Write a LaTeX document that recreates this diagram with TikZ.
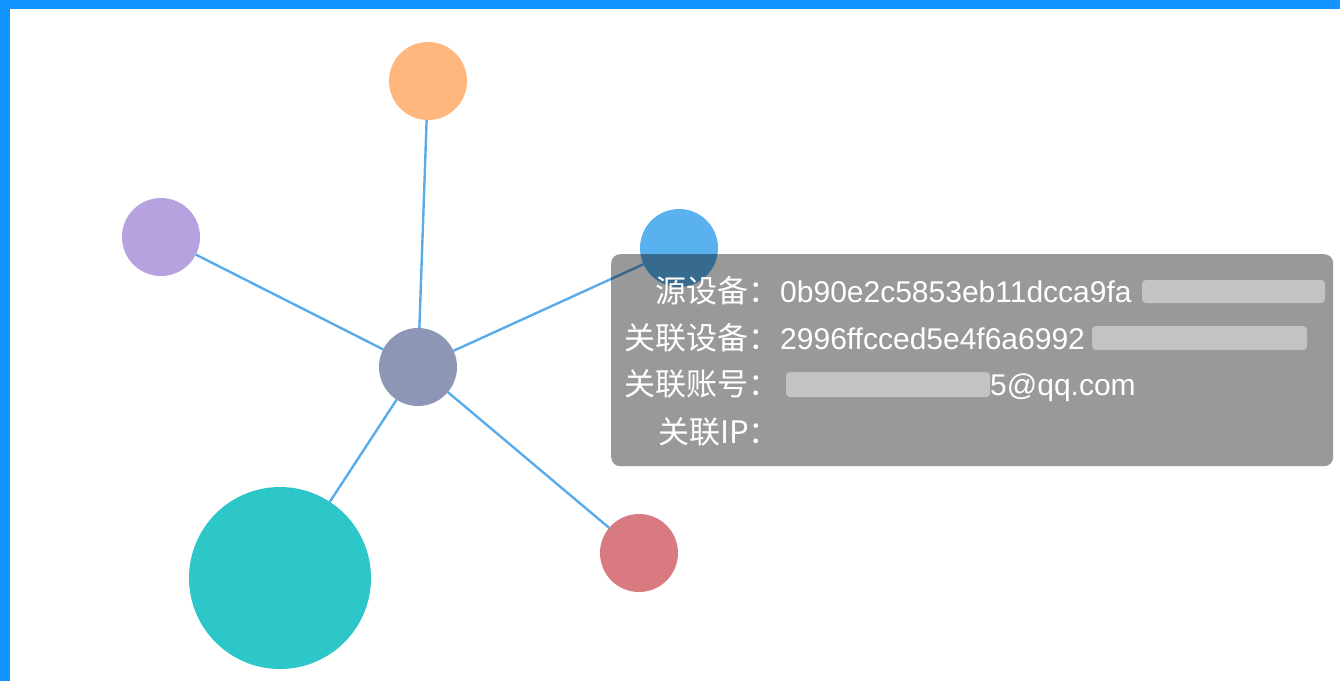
\documentclass[tikz,border=0pt]{standalone}
\usepackage{fontspec}
\newfontfamily\cjk{Noto Sans CJK SC}
\newfontfamily\latinfont{Liberation Sans}
\definecolor{frameblue}{HTML}{1395FF}
\definecolor{edgeblue}{HTML}{5AABEA}
\definecolor{cCenter}{HTML}{8E96B5}
\definecolor{cOrange}{HTML}{FFB77E}
\definecolor{cPurple}{HTML}{B6A2DE}
\definecolor{cBlue}{HTML}{5AB1EF}
\definecolor{cTeal}{HTML}{2EC7C9}
\definecolor{cRed}{HTML}{D87A80}
\tikzset{
  dot/.style={circle, inner sep=0pt, outer sep=0pt, minimum size=78pt, draw=none},
  link/.style={draw=edgeblue, line width=2.4pt},
  tiplabel/.style={anchor=base east, inner sep=0pt, text=white, font=\cjk\fontsize{31}{34}\selectfont},
  tipvalue/.style={anchor=base west, inner sep=0pt, text=white, font=\latinfont\fontsize{30}{34}\selectfont},
  blurbar/.style={fill=white, fill opacity=0.42, draw=none, rounded corners=4pt}
}
\begin{document}
\begin{tikzpicture}[x=1pt,y=-1pt]
\useasboundingbox (0,0) rectangle (1340,681);
\fill[white] (0,0) rectangle (1340,681);
\fill[frameblue] (0,0) rectangle (1340,9);
\fill[frameblue] (0,0) rectangle (10,681);
% nodes
\node[dot, fill=cCenter] (c) at (418,367) {};
\node[dot, fill=cOrange] (o) at (428,81) {};
\node[dot, fill=cPurple] (p) at (161,237) {};
\node[dot, fill=cBlue] (b) at (679,248) {};
\node[dot, fill=cTeal, minimum size=182pt] (t) at (280,578) {};
\node[dot, fill=cRed] (r) at (639,553) {};
% edges
\draw[link] (c) -- (o);
\draw[link] (c) -- (p);
\draw[link] (c) -- (b);
\draw[link] (c) -- (t);
\draw[link] (c) -- (r);
% tooltip
\node[fill=black, fill opacity=0.4, rounded corners=9pt, minimum width=722pt, minimum height=212pt, inner sep=0pt, anchor=north west] (tip) at (611,254) {};
\node[tiplabel] (l1) at (780,302) {源设备：};
\node[tiplabel] (l2) at (780,349) {关联设备：};
\node[tiplabel] (l3) at (780,395) {关联账号：};
\node[tiplabel] (l4) at (780,443) {关联IP：};
\node[tipvalue] (v1) at (780,302) {0b90e2c5853eb11dcca9fa};
\node[tipvalue] (v2) at (780,349) {2996ffcced5e4f6a6992};
\node[tipvalue] (v3) at (990,395) {5@qq.com};
\fill[blurbar] (1142,280) rectangle (1325,303);
\fill[blurbar] (1092,326) rectangle (1307,350);
\fill[blurbar] (786,372) rectangle (990,397);
\end{tikzpicture}
\end{document}
